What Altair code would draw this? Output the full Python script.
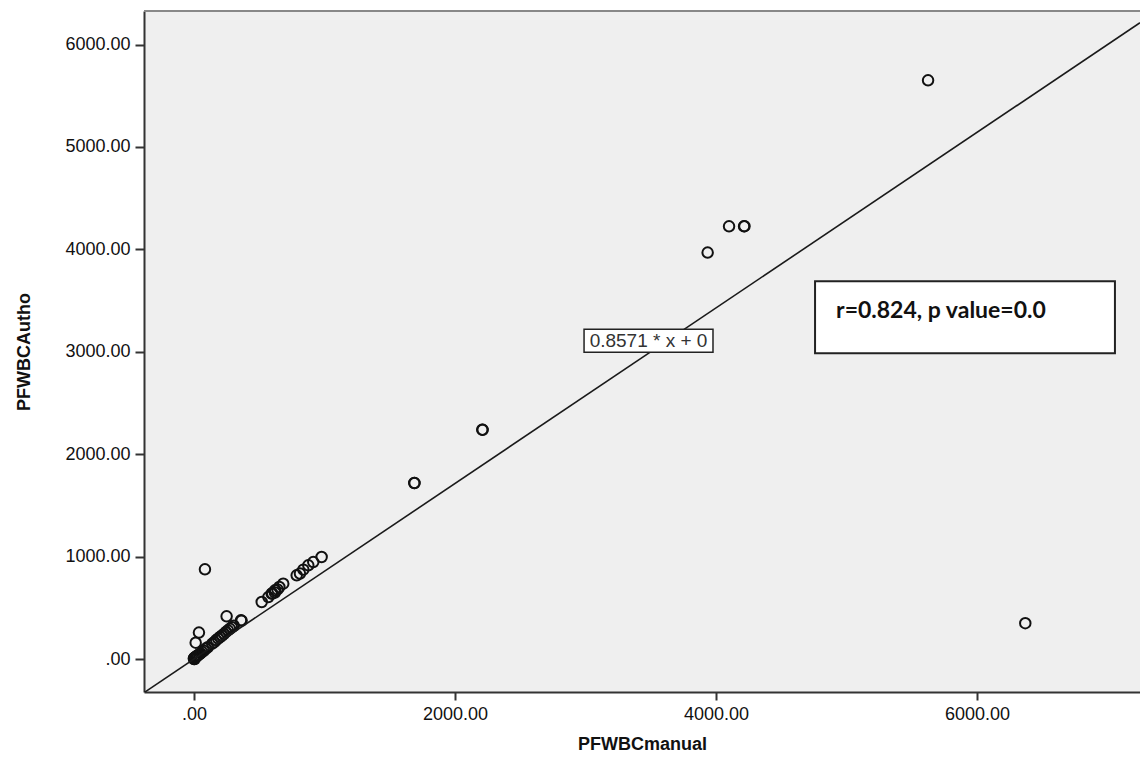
import altair as alt
import pandas as pd

# ---- data ----
manual = [0, 0, 3, 5, 8, 12, 18, 25, 30, 40, 50, 60, 75, 90, 105,
          140, 155, 170, 185, 200, 215, 230, 245, 260, 275, 290, 305,
          13, 38, 84, 250, 360, 365,
          519, 570, 595, 600, 620, 621, 640, 654, 684, 787, 812, 838, 876, 914, 978,
          1688, 1690, 2209, 2212, 3936, 4100, 4215, 4218, 5625, 6370]
autho = [0, 5, 10, 0, 15, 20, 25, 30, 38, 45, 55, 70, 80, 100, 115,
         150, 165, 185, 200, 215, 230, 245, 265, 280, 295, 310, 325,
         160, 258, 876, 417, 378, 375,
         557, 605, 639, 640, 650, 671, 680, 703, 736, 817, 834, 873, 915, 947, 996,
         1719, 1718, 2240, 2238, 3969, 4225, 4225, 4227, 5651, 350]

SLOPE = 0.8571
X_DOMAIN = [-383, 7249]
Y_DOMAIN = [-322, 6328]
X_TICKS = [0, 2000, 4000, 6000]
Y_TICKS = [0, 1000, 2000, 3000, 4000, 5000, 6000]

fit_label = "0.8571 * x + 0"
fit_box = {"x": 2989, "x2": 3977, "y": 3220, "y2": 2995}
fit_text_pos = {"x": 3483, "y": 3107}
stat_label = "r=0.824, p value=0.0"
stat_box = {"x": 4759, "x2": 7057, "y": 3688, "y2": 2985}
stat_text_pos = {"x": 4920, "y": 3330}

XF, YF = "PFWBCmanual", "PFWBCAutho"

pts = pd.DataFrame({XF: manual, YF: autho})
line_df = pd.DataFrame({XF: X_DOMAIN, YF: [SLOPE * v for v in X_DOMAIN]})
boxes = pd.DataFrame([
    {XF: fit_box["x"], "xe": fit_box["x2"], YF: fit_box["y"], "ye": fit_box["y2"], "sw": 1.5},
    {XF: stat_box["x"], "xe": stat_box["x2"], YF: stat_box["y"], "ye": stat_box["y2"], "sw": 2.0},
])
fit_txt = pd.DataFrame([{XF: fit_text_pos["x"], YF: fit_text_pos["y"], "t": fit_label}])
stat_txt = pd.DataFrame([{XF: stat_text_pos["x"], YF: stat_text_pos["y"], "t": stat_label}])

xs = alt.Scale(domain=X_DOMAIN, nice=False, zero=False)
ys = alt.Scale(domain=Y_DOMAIN, nice=False, zero=False)

lab = "datum.value == 0 ? '.00' : format(datum.value, '.2f')"
x_axis = alt.Axis(values=X_TICKS, labelExpr=lab, title=XF, tickSize=8, labelPadding=5, titlePadding=12)
y_axis = alt.Axis(values=Y_TICKS, labelExpr=lab, title=YF, tickSize=9, labelPadding=5, titlePadding=31)

X = alt.X(f"{XF}:Q", scale=xs, axis=x_axis)
Y = alt.Y(f"{YF}:Q", scale=ys, axis=y_axis)

points = alt.Chart(pts).mark_point(
    shape="circle", filled=False, size=110, strokeWidth=2, color="#111", opacity=1
).encode(x=X, y=Y)

fit_line = alt.Chart(line_df).mark_line(color="#1a1a1a", strokeWidth=1.6, clip=True).encode(
    x=alt.X(f"{XF}:Q", scale=xs), y=alt.Y(f"{YF}:Q", scale=ys)
)

rects = alt.Chart(boxes).mark_rect(fill="white", stroke="#222").encode(
    x=alt.X(f"{XF}:Q", scale=xs), x2="xe:Q",
    y=alt.Y(f"{YF}:Q", scale=ys), y2="ye:Q",
    strokeWidth=alt.StrokeWidth("sw:Q", scale=None, legend=None),
)

fit_text = alt.Chart(fit_txt).mark_text(
    font="Liberation Sans", fontSize=19, color="#333", align="center", baseline="middle"
).encode(x=alt.X(f"{XF}:Q", scale=xs), y=alt.Y(f"{YF}:Q", scale=ys), text="t:N")

stat_text = alt.Chart(stat_txt).mark_text(
    font="Lato", fontSize=23, fontWeight="bold", color="#111", align="left", baseline="alphabetic"
).encode(x=alt.X(f"{XF}:Q", scale=xs), y=alt.Y(f"{YF}:Q", scale=ys), text="t:N")

top_border = alt.Chart(pd.DataFrame({"k": [0]})).mark_rule(color="#888", strokeWidth=2).encode(
    x=alt.value(0), x2=alt.value(996), y=alt.value(0)
)

chart = alt.layer(points, fit_line, rects, fit_text, stat_text, top_border).properties(
    width=996, height=681,
    autosize=alt.AutoSizeParams(type="none"),
    padding={"left": 136, "top": 3, "right": 0, "bottom": 60},
    background="white",
).configure_view(
    stroke=None, fill="#efefef"
).configure_axis(
    grid=False,
    domainColor="#333", domainWidth=2,
    tickColor="#333", tickWidth=2,
    labelColor="#111", labelFont="Liberation Sans", labelFontSize=18,
    titleColor="#111", titleFont="Liberation Sans", titleFontSize=18, titleFontWeight="bold",
)

chart.save("out.html", embed_options={"renderer": "svg", "actions": False})
